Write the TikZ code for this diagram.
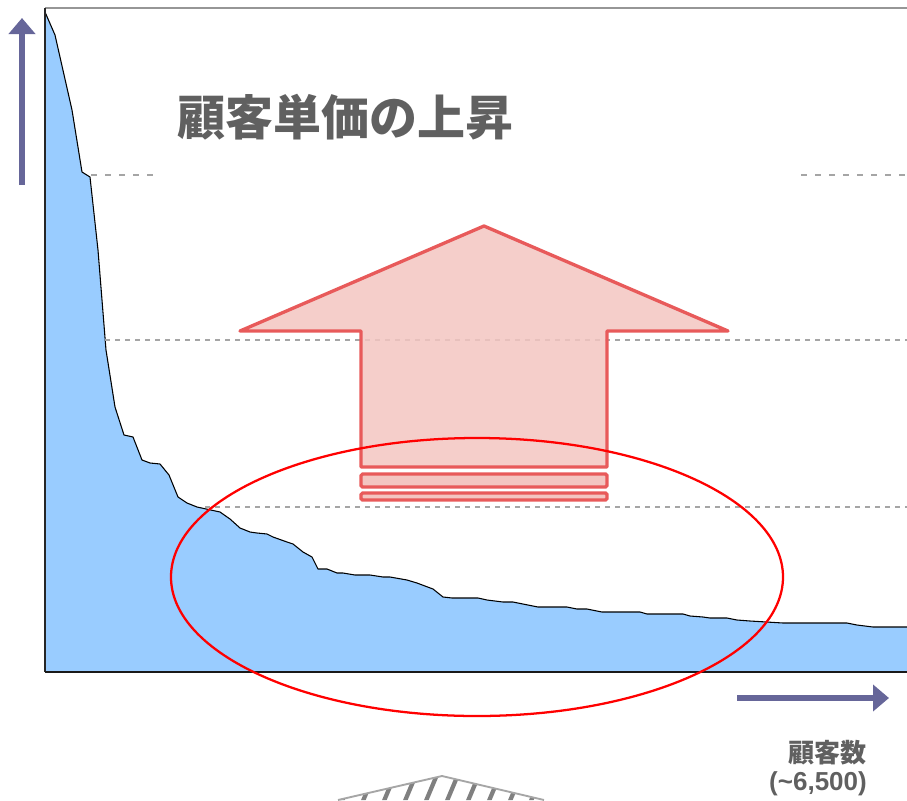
\documentclass[tikz,border=0pt]{standalone}
\usepackage{fontspec}
\setmainfont{Liberation Sans}
\newfontfamily\cjk{Noto Sans CJK JP}
\usetikzlibrary{arrows.meta}
\definecolor{axisblue}{RGB}{102,102,153}
\definecolor{fillblue}{RGB}{153,204,255}
\definecolor{arrred}{RGB}{232,90,90}
\definecolor{arrpink}{RGB}{243,197,193}
\definecolor{txtgray}{RGB}{96,96,96}
\definecolor{dashgray}{RGB}{165,165,165}
\definecolor{framegray}{RGB}{150,150,150}
\definecolor{hatchgray}{RGB}{128,128,128}
\tikzset{
  gridA/.style={dashgray, line width=0.9pt, dash pattern=on 4.5pt off 6pt},
  gridB/.style={dashgray, line width=0.9pt, dash pattern=on 3.5pt off 4pt},
  bigarrow/.style={draw=arrred, fill=arrpink, fill opacity=0.85, draw opacity=1, line width=2.5pt, line join=round},
  barbox/.style={draw=arrred, fill=arrpink, line width=2.5pt, rounded corners=1.2pt},
  axisarrow/.style={axisblue, line width=4.2pt, -{Triangle[length=12pt,width=19.5pt]}},
  titletext/.style={text=txtgray, font=\fontsize{36}{40}\selectfont\cjk\bfseries, inner sep=0pt},
  labeltext/.style={text=txtgray, inner sep=0pt, font=\fontsize{19.5}{23}\selectfont\bfseries},
  stripe/.style={hatchgray, line width=3.2pt},
}
\begin{document}
\begin{tikzpicture}[x=0.75pt,y=-0.75pt]
\useasboundingbox (0,0) rectangle (907,800);

% area under curve
\fill[fillblue] (45,12) -- (55,35) -- (72,110) -- (82,172) -- (90,177) -- (98,250) -- (106,350)
 -- (115,407) -- (124,435) -- (133,437) -- (142,460) -- (150,463) -- (160,464) -- (169,475)
 -- (178,497) -- (187,503) -- (197,507) -- (220,512) -- (230,519) -- (240,528) -- (250,532)
 -- (257,533) -- (267,534) -- (273,537) -- (287,542) -- (293,544) -- (303,552) -- (312,557)
 -- (318,569) -- (327,569) -- (337,573) -- (343,573) -- (355,575) -- (370,575) -- (383,577)
 -- (390,577) -- (407,580) -- (417,583) -- (433,589) -- (443,597) -- (452,598) -- (478,598)
 -- (487,600) -- (503,602) -- (513,602) -- (538,607) -- (567,607) -- (577,609) -- (587,609)
 -- (602,612) -- (640,612) -- (647,614) -- (683,614) -- (690,616) -- (703,617) -- (710,618)
 -- (727,618) -- (737,620) -- (750,621) -- (783,623) -- (847,623) -- (857,625) -- (873,627)
 -- (907,627) -- (907,672) -- (45,672) -- cycle;
\draw[black, line width=0.8pt, line join=round] (45,12) -- (55,35) -- (72,110) -- (82,172) -- (90,177) -- (98,250) -- (106,350)
 -- (115,407) -- (124,435) -- (133,437) -- (142,460) -- (150,463) -- (160,464) -- (169,475)
 -- (178,497) -- (187,503) -- (197,507) -- (220,512) -- (230,519) -- (240,528) -- (250,532)
 -- (257,533) -- (267,534) -- (273,537) -- (287,542) -- (293,544) -- (303,552) -- (312,557)
 -- (318,569) -- (327,569) -- (337,573) -- (343,573) -- (355,575) -- (370,575) -- (383,577)
 -- (390,577) -- (407,580) -- (417,583) -- (433,589) -- (443,597) -- (452,598) -- (478,598)
 -- (487,600) -- (503,602) -- (513,602) -- (538,607) -- (567,607) -- (577,609) -- (587,609)
 -- (602,612) -- (640,612) -- (647,614) -- (683,614) -- (690,616) -- (703,617) -- (710,618)
 -- (727,618) -- (737,620) -- (750,621) -- (783,623) -- (847,623) -- (857,625) -- (873,627)
 -- (907,627);

% frame and axes
\draw[framegray, line width=1.5pt] (45,8) -- (907,8);
\draw[black!85, line width=1.2pt] (45,8) -- (45,672);
\draw[black!90, line width=1.6pt] (45,672) -- (907,672);

% dashed guide lines
\draw[gridA] (91,175) -- (153,175);
\draw[gridA] (801,175) -- (907,175);
\draw[gridB] (105,340) -- (907,340);
\draw[gridB] (205,507) -- (907,507);

% big up arrow
\path[bigarrow] (484,226) -- (728,331) -- (607,331) -- (607,467) -- (361,467) -- (361,331) -- (240,331) -- cycle;
\draw[barbox] (361,474) rectangle (607,487);
\draw[barbox] (361,493) rectangle (607,500);

% red ellipse
\draw[red, line width=1.7pt] (477,577) ellipse [x radius=229.5pt, y radius=104.25pt];

% axis arrows
\coordinate (ybot) at (22,185);
\coordinate (ytop) at (22,18);
\coordinate (xleft) at (737,698);
\coordinate (xright) at (889,698);
\draw[axisarrow] (ybot) -- (ytop);
\draw[axisarrow] (xleft) -- (xright);

% texts
\node[titletext] (title) at (345,117) {顧客単価の上昇};
\node[labeltext, font=\fontsize{19.5}{23}\selectfont\cjk\bfseries] (xlabel) at (827,753) {顧客数};
\node[labeltext] (xcount) at (818,784) {(\textasciitilde 6,500)};

% hatched shape at bottom
\begin{scope}
\clip (338,800) -- (442,776) -- (544,800) -- cycle;
\foreach \i in {0,...,12} \draw[stripe] ({318+\i*21},808) -- ++(16,-38);
\end{scope}
\draw[black!35, line width=1.4pt, line join=round] (338,800) -- (442,776) -- (544,800);
\end{tikzpicture}
\end{document}
